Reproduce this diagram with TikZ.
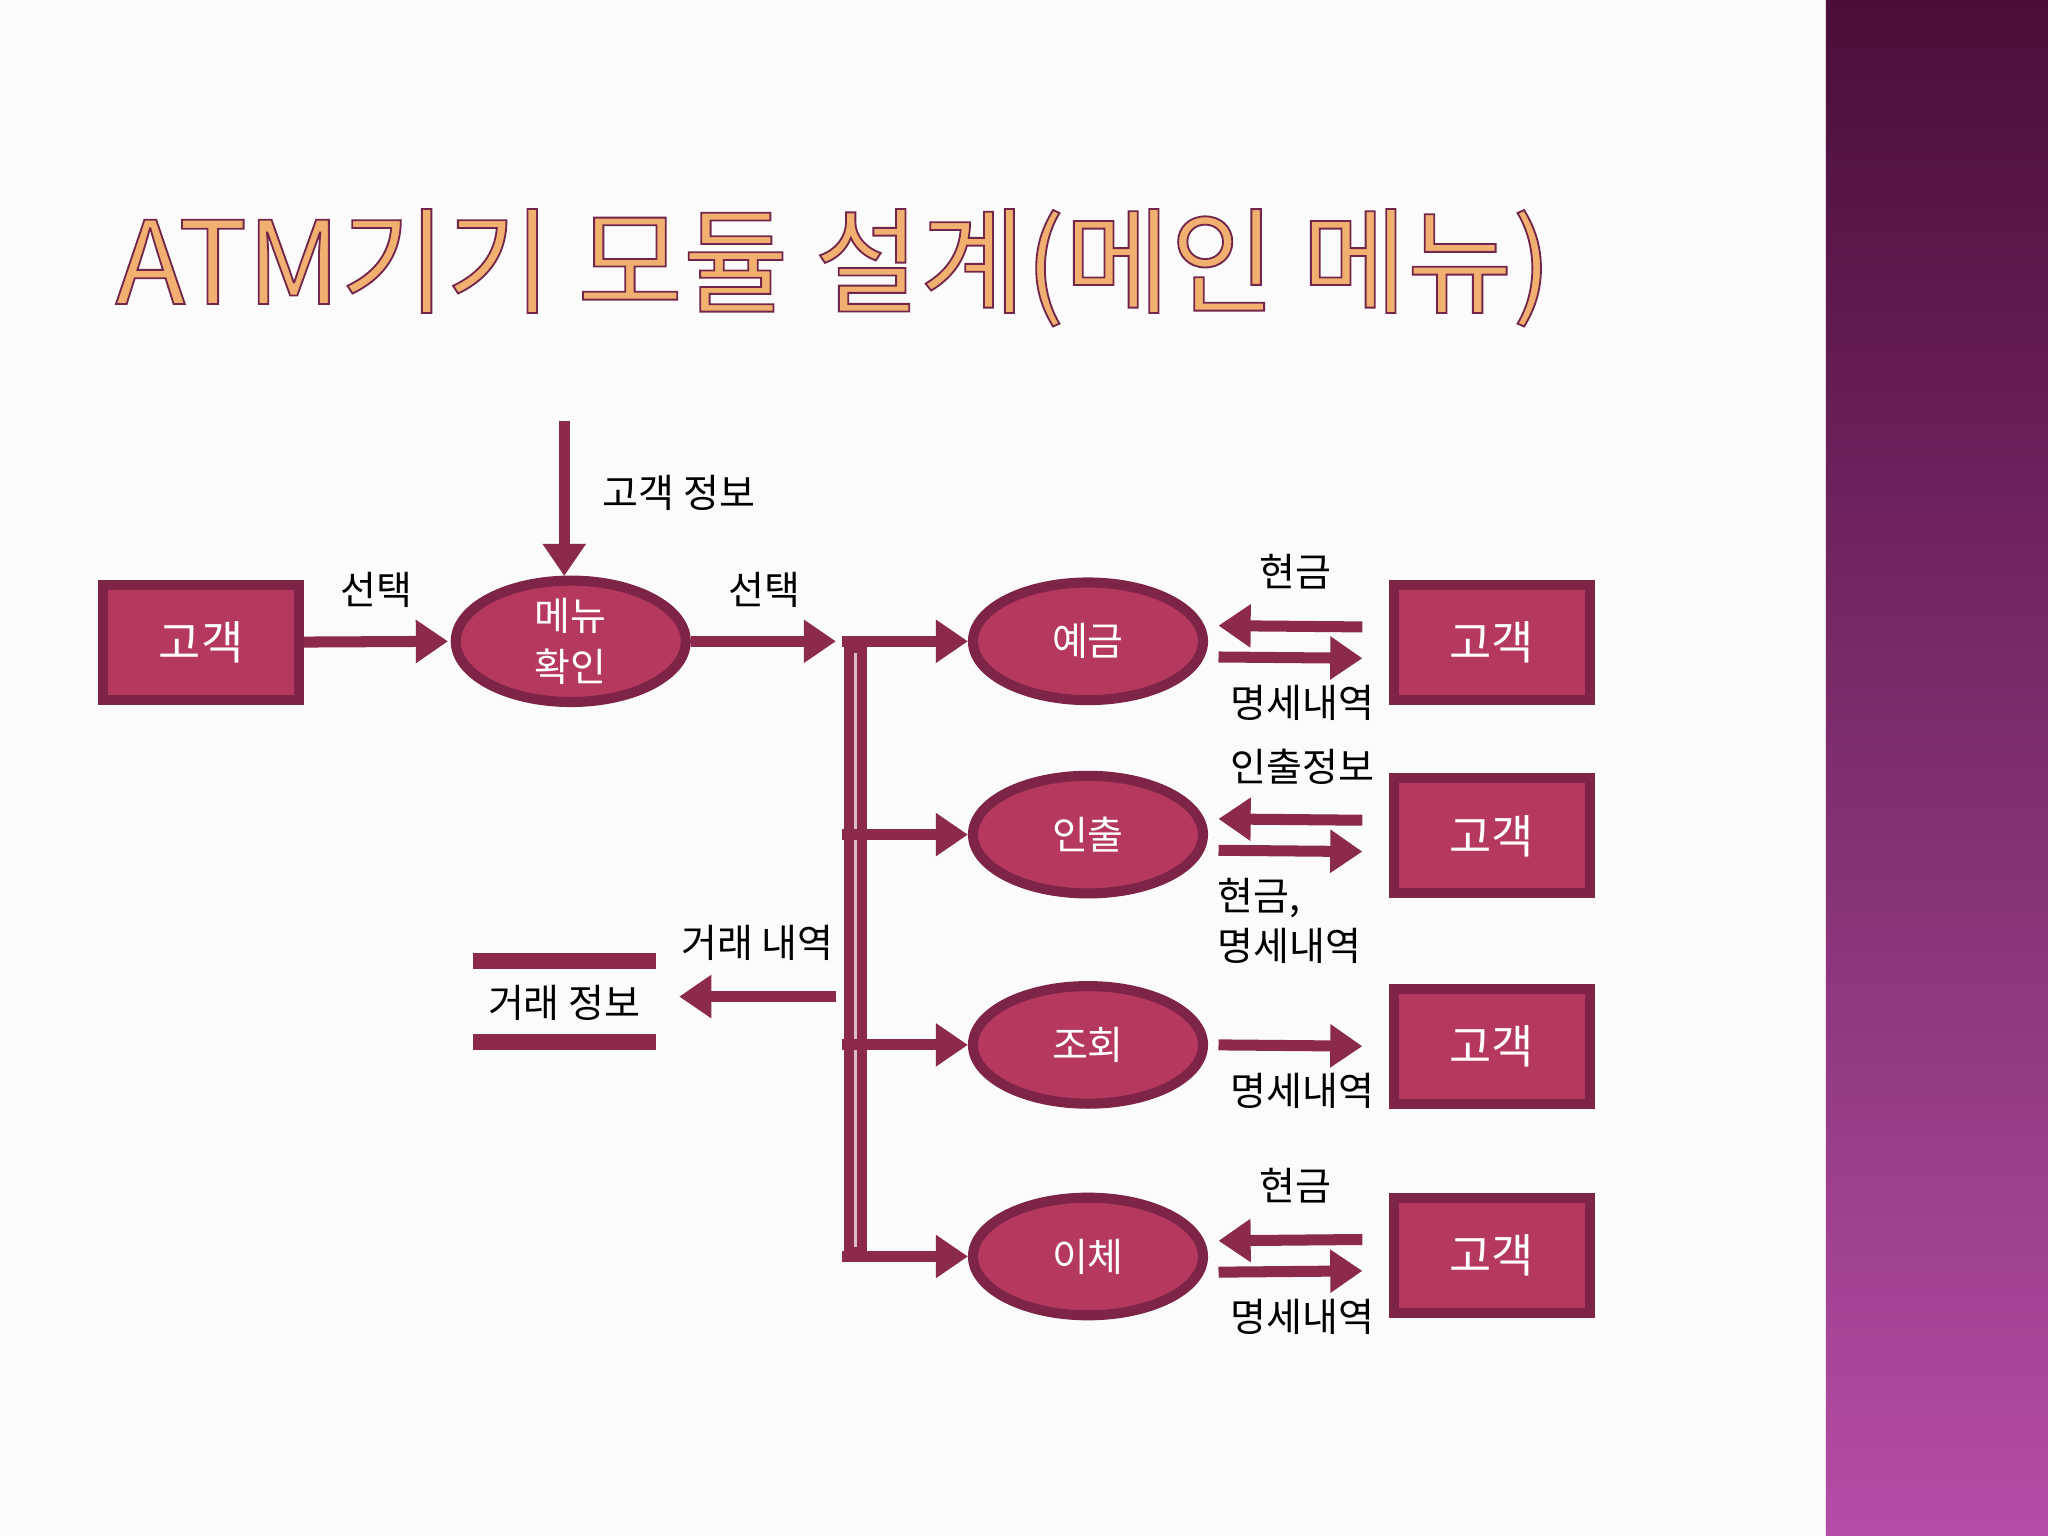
\documentclass[tikz,border=0pt]{standalone}
\usepackage{fontspec}
\setmainfont{Noto Sans CJK KR}
\usetikzlibrary{arrows.meta,shapes.geometric}
\definecolor{boxf}{HTML}{B5395F}
\definecolor{boxd}{HTML}{7E2446}
\definecolor{arr}{HTML}{8C2A4E}
\definecolor{bandtop}{HTML}{4A0E38}
\definecolor{bandbot}{HTML}{B54DA6}
\definecolor{titc}{HTML}{F2B070}
\tikzset{
  box/.style={draw=boxd,line width=2.2pt,fill=boxf,minimum width=1.5cm,minimum height=0.88cm,text=white,font=\fontsize{10}{12}\selectfont},
  ell/.style={ellipse,draw=boxd,line width=2.2pt,fill=boxf,minimum width=1.76cm,minimum height=0.9cm,inner sep=0pt,text=white,font=\fontsize{8.5}{11}\selectfont,align=center},
  fat/.style={draw=arr,line width=2.4pt,-{Triangle[length=7pt,width=9pt]}},
  lbl/.style={font=\fontsize{8.5}{11}\selectfont,align=left,inner sep=1pt}
}
\begin{document}
\begin{tikzpicture}[x=0.01cm,y=-0.01cm]
\useasboundingbox (0,0) rectangle (1568,1176);
\fill[white!97!gray] (0,0) rectangle (1398,1176);
\shade[top color=bandtop,bottom color=bandbot] (1398,0) rectangle (1568,1176);
\node[anchor=west,text=titc,font=\fontsize{25}{28}\selectfont] (title) at (76,205) {\special{pdf:literal 2 Tr 0.4 w 0.45 0.15 0.3 RG}ATM기기 모듈 설계(메인 메뉴)\special{pdf:literal 0 Tr}};
% nodes
\node[box] (c0) at (154,492) {고객};
\node[ell] (menu) at (437,491) {메뉴\\확인};
\coordinate (top) at (432,322);
\coordinate (split) at (640,491);
\node[ell] (e1) at (833,491) {예금};
\node[ell] (e2) at (833,639) {인출};
\node[ell] (e3) at (833,800) {조회};
\node[ell] (e4) at (833,962) {이체};
\node[box] (c1) at (1142,492) {고객};
\node[box] (c2) at (1142,640) {고객};
\node[box] (c3) at (1142,801) {고객};
\node[box] (c4) at (1142,961) {고객};
% data store
\coordinate (ds1a) at (362,736); \coordinate (ds1b) at (502,736);
\coordinate (ds2a) at (362,798); \coordinate (ds2b) at (502,798);
\draw[arr,line width=3.5pt] (ds1a) -- (ds1b);
\draw[arr,line width=3.5pt] (ds2a) -- (ds2b);
\node[lbl] (dsl) at (432,768) {거래 정보};
\coordinate (dsin) at (520,763);
\coordinate (busm) at (640,763);
% connectors
\draw[fat] (c0) -- (343,491);
\draw[fat] (top) -- (432,441);
\draw[fat] (menu) -- (split);
\draw[draw=arr,line width=5pt] (655,487) -- (655,966);
\draw[draw=white!70!arr,line width=0.8pt] (655,500) -- (655,955);
\foreach \e in {e1,e2,e3,e4}{\draw[fat] (645,0 |- \e) -- (\e.west);}
\draw[fat] (busm) -- (dsin);
\foreach \c/\e in {c1/e1,c2/e2,c4/e4}{
  \draw[fat] ([xshift=-0.2cm,yshift=0.12cm]\c.west) -- ([xshift=0.08cm,yshift=0.12cm]\e.east);
  \draw[fat] ([xshift=0.08cm,yshift=-0.12cm]\e.east) -- ([xshift=-0.2cm,yshift=-0.12cm]\c.west);
}
\draw[fat] ([xshift=0.08cm]e3.east) -- ([xshift=-0.2cm]c3.west);
% labels
\node[lbl] (l1) at (288,452) {선택};
\node[lbl] (l2) at (520,377) {고객 정보};
\node[lbl] (l3) at (585,452) {선택};
\node[lbl] (l4) at (580,722) {거래 내역};
\node[lbl] (l5) at (992,438) {현금};
\node[lbl] (l6) at (997,538) {명세내역};
\node[lbl] (l7) at (997,587) {인출정보};
\node[lbl,anchor=north west] (l8) at (928,668) {현금,\\명세내역};
\node[lbl] (l9) at (997,835) {명세내역};
\node[lbl] (l10) at (992,908) {현금};
\node[lbl] (l11) at (997,1008) {명세내역};
\end{tikzpicture}
\end{document}
